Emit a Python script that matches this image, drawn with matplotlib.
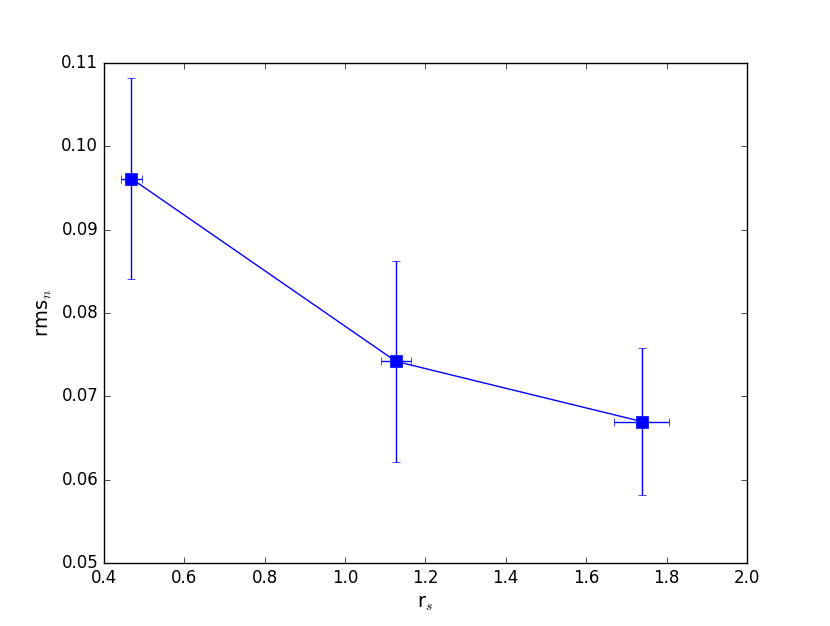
import matplotlib
matplotlib.use("Agg")
import matplotlib.pyplot as plt

# values
r_s = [0.469, 1.127, 1.738]
r_s_err = [0.027, 0.038, 0.068]
rms_n = [0.0961, 0.0742, 0.0670]
rms_n_err = [0.0120, 0.0120, 0.00875]

plt.style.use("classic")

fig = plt.figure(figsize=(8.3, 6.26), dpi=100, facecolor="white")
ax = fig.add_subplot(111)
ax.errorbar(r_s, rms_n, xerr=r_s_err, yerr=rms_n_err, fmt="s-", color="b",
            mec="b", markersize=8, capsize=3, lw=1)
ax.set_xlim(0.4, 2.0)
ax.set_ylim(0.05, 0.11)
ax.set_xlabel("r$_s$", fontsize=14)
ax.set_ylabel("rms$_n$", fontsize=14)

fig.savefig("out.png", dpi=100, facecolor="white")
